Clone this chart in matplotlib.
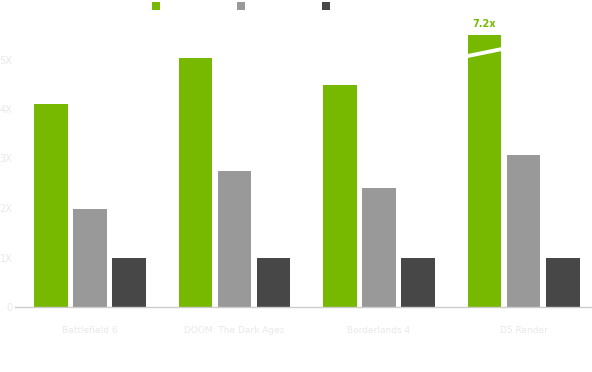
import matplotlib
matplotlib.use("Agg")
import matplotlib.pyplot as plt
from matplotlib.patches import Rectangle
import numpy as np

games = ["Battlefield 6", "DOOM: The Dark Ages", "Borderlands 4", "D5 Render"]
series_names = ["DLSS 4", "DLSS 3", "Native"]
dlss4 = [4.1, 5.03, 4.48, 5.5]
dlss3 = [1.98, 2.75, 2.4, 3.07]
native = [1.0, 1.0, 1.0, 1.0]
yticks = [0, 1, 2, 3, 4, 5]
ytick_labels = ["0", "1X", "2X", "3X", "4X", "5X"]
broken_label = "7.2x"

colors = ["#76b900", "#999999", "#474747"]
tick_color = "#e8e8e8"

fig = plt.figure(figsize=(5.92, 3.72), dpi=100)
W, H = 592, 372
ax = fig.add_axes([15 / W, 65 / H, 1 - 15 / W, (307 - 10) / H])

x = np.arange(len(games))
w = 0.235
off = 0.27
for i, (vals, c) in enumerate(zip([dlss4, dlss3, native], colors)):
    ax.bar(x + (i - 1) * off, vals, width=w, color=c, edgecolor="none", zorder=2)

# break mark on the D5 Render bar
bx = x[3] - off
ax.plot([bx - w / 2, bx + w / 2], [5.07, 5.21], color="white", lw=2.8,
        solid_capstyle="butt", zorder=3)
ax.text(bx, dlss4[3] + 0.12, broken_label, ha="center", va="bottom",
        color=colors[0], fontsize=7, fontweight="bold")

ax.set_xlim(-0.519, 3.474)
ax.set_ylim(0, 6)
ax.set_yticks(yticks)
ax.set_yticklabels(ytick_labels)
ax.set_xticks(x)
ax.set_xticklabels(games)
ax.tick_params(axis="y", length=0, pad=2, labelsize=7, labelcolor=tick_color)
ax.tick_params(axis="x", length=0, pad=14, labelsize=6.5, labelcolor=tick_color)
for s in ["top", "right", "left"]:
    ax.spines[s].set_visible(False)
ax.spines["bottom"].set_color("#cccccc")
ax.spines["bottom"].set_linewidth(1)

# legend row at top (labels are white, as in the original)
for i, (name, c) in enumerate(zip(series_names, colors)):
    lx = (152 + i * 85) / W
    fig.add_artist(Rectangle((lx, 1 - 10 / H), 8 / W, 8 / H, transform=fig.transFigure,
                             facecolor=c, edgecolor="none"))
    fig.text(lx + 12 / W, 1 - 6 / H, name, color="white", fontsize=6, va="center")

fig.savefig("out.png", dpi=100)
